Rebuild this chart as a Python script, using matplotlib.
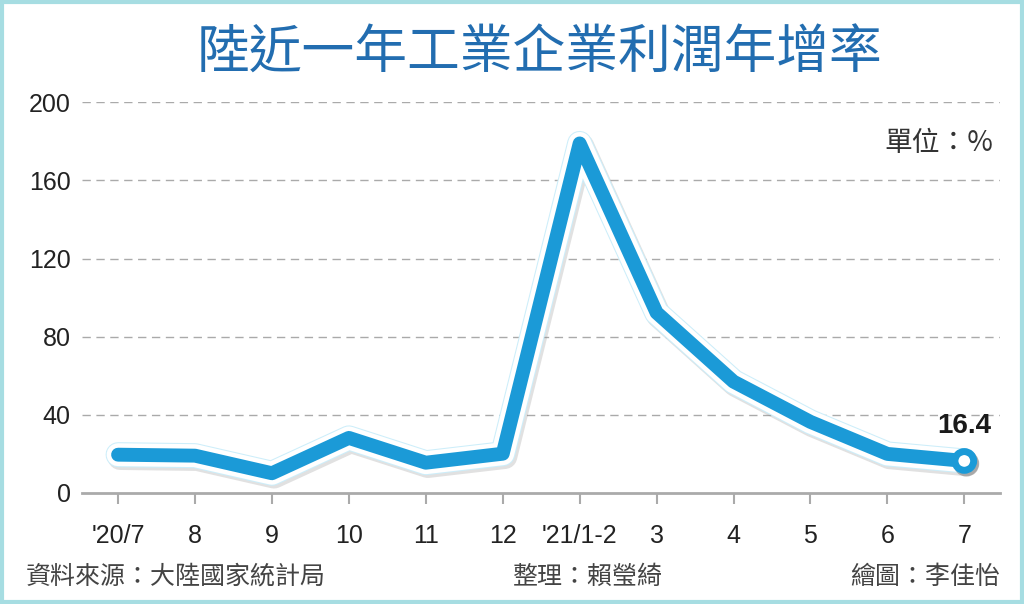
import matplotlib
matplotlib.use("Agg")
import matplotlib.pyplot as plt
import matplotlib.patheffects as pe
from matplotlib.patches import Rectangle

# 資料：陸工業企業利潤年增率（%）
months = ["'20/7", "8", "9", "10", "11", "12", "'21/1-2", "3", "4", "5", "6", "7"]
growth = [19.6, 19.1, 10.1, 28.2, 15.5, 20.1, 178.9, 92.3, 57.0, 36.4, 20.0, 16.4]
y_ticks = [0, 40, 80, 120, 160, 200]

TITLE = "陸近一年工業企業利潤年增率"
UNIT = "單位：%"
SOURCE = "資料來源：大陸國家統計局"
EDITOR = "整理：賴瑩綺"
DRAWER = "繪圖：李佳怡"

CJK = ["Noto Sans CJK TC", "DejaVu Sans"]
NUM = ["Liberation Sans", "DejaVu Sans"]
BLUE = "#1b9ad7"

fig = plt.figure(figsize=(10.24, 6.04), dpi=100)
fig.patch.set_facecolor("white")
ax = fig.add_axes([0.080, 0.1838, 0.897, 0.647])

x = list(range(len(months)))
line_fx = [
    pe.SimpleLineShadow(offset=(1.5, -2), shadow_color="#888888", alpha=0.25, linewidth=18),
    pe.Stroke(linewidth=18, foreground="#cdeefa"),
    pe.Stroke(linewidth=16.5, foreground="white"),
    pe.Normal(),
]
ax.plot(x, growth, color=BLUE, lw=10, solid_joinstyle="round", solid_capstyle="round",
        path_effects=line_fx, zorder=3)
# 最後一點的空心圓
ax.plot(x[-1], growth[-1], marker="o", ms=13.5, mfc="white", mec=BLUE, mew=5,
        path_effects=[pe.SimpleLineShadow(offset=(1.5, -2), alpha=0.25), pe.Normal()], zorder=4)
ax.text(x[-1], growth[-1] + 11, f"{growth[-1]:.1f}", ha="center", va="bottom",
        fontsize=20, fontweight="bold", family=NUM, color="#1a1a1a", zorder=5)

ax.set_xlim(-0.47, 11.47)
ax.set_ylim(0, 200)
ax.set_yticks(y_ticks)
ax.set_yticklabels([str(v) for v in y_ticks], family=NUM, fontsize=18, color="#222222")
ax.set_xticks(x)
ax.set_xticklabels(months, family=NUM, fontsize=18, color="#222222")
ax.tick_params(axis="y", length=0, pad=8)
ax.tick_params(axis="x", length=8, width=1.5, color="#aaaaaa", pad=14)

for v in y_ticks[1:]:
    ax.axhline(v, color="#aaaaaa", lw=1, ls=(0, (6, 4)), zorder=1)
for side in ["top", "right", "left"]:
    ax.spines[side].set_visible(False)
ax.spines["bottom"].set_color("#aaaaaa")
ax.spines["bottom"].set_linewidth(2)

fig.text(0.527, 0.912, TITLE, ha="center", va="center", fontsize=38,
         family=CJK, fontweight="medium", color="#226db0")
fig.text(0.970, 0.763, UNIT, ha="right", va="center", fontsize=20, family=CJK, color="#333333")
fig.text(0.025, 0.045, SOURCE, ha="left", va="center", fontsize=18, family=CJK, color="#444444")
fig.text(0.573, 0.045, EDITOR, ha="center", va="center", fontsize=18, family=CJK, color="#444444")
fig.text(0.977, 0.045, DRAWER, ha="right", va="center", fontsize=18, family=CJK, color="#444444")

# 外框
fig.patches.append(Rectangle((0.002, 0.003), 0.996, 0.994, transform=fig.transFigure,
                             fill=False, edgecolor="#a6dde2", lw=3))

fig.savefig("out.png", dpi=100, facecolor="white")
